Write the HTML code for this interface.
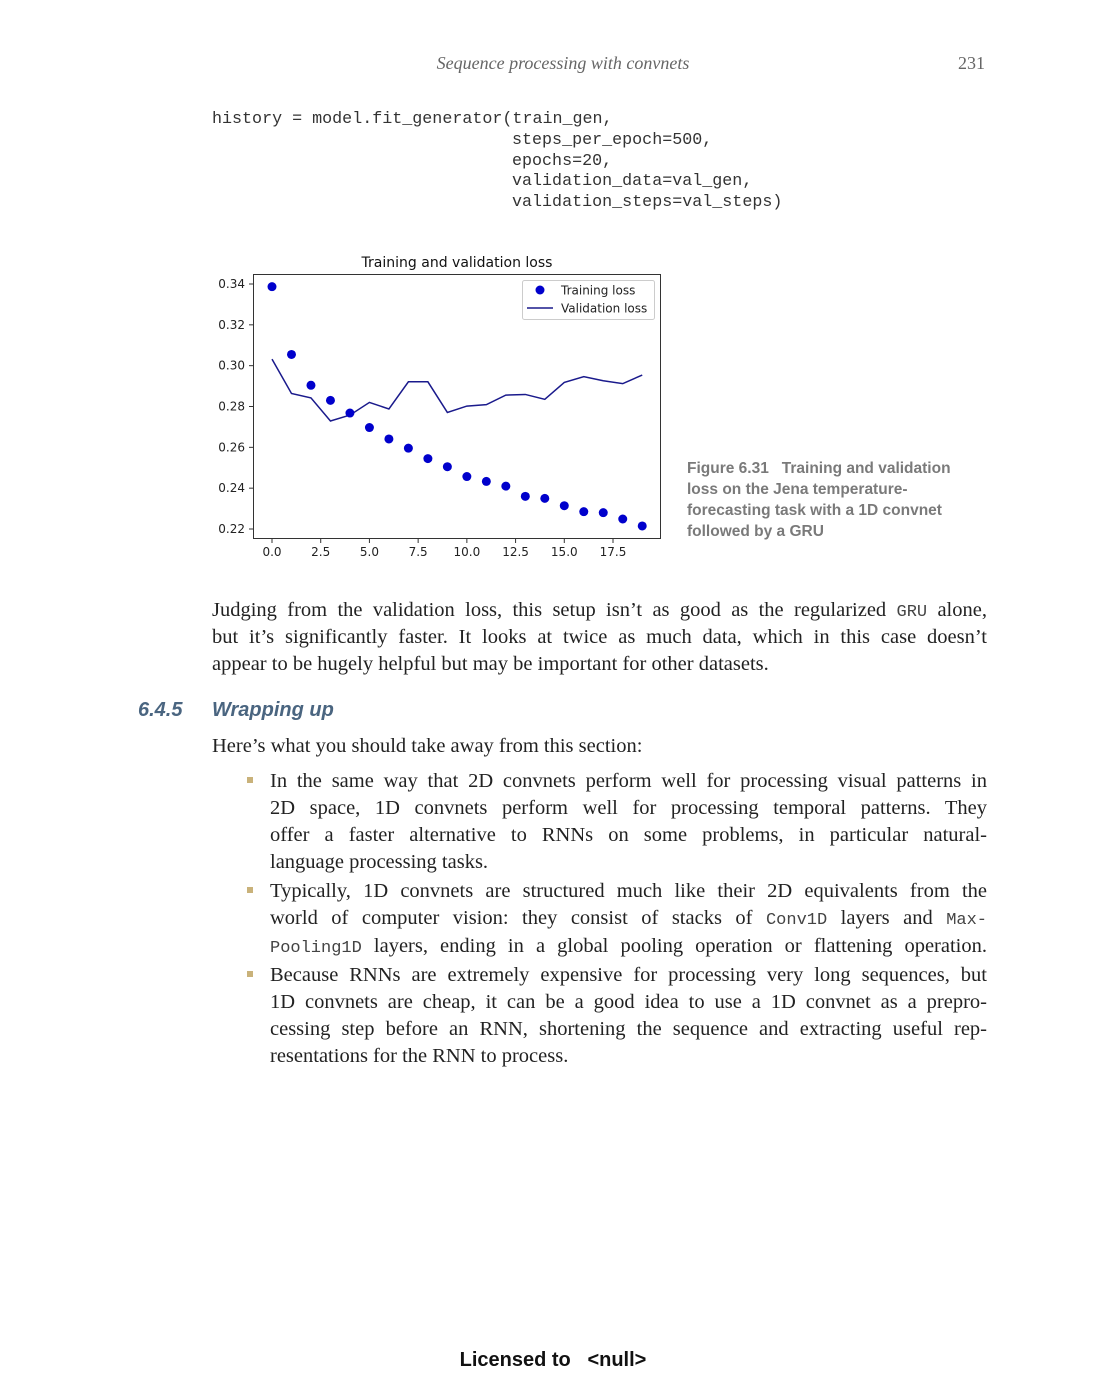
<!DOCTYPE html>
<html><head><meta charset="utf-8"><style>
body{margin:0;background:#fff;}
#page{position:relative;width:1106px;height:1388px;background:#fff;overflow:hidden;font-family:"Liberation Serif",serif;color:#222;}
.ab{position:absolute;white-space:nowrap;}
.code{font-family:"Liberation Mono",monospace;font-size:16.7px;color:#333;line-height:20px;}
.cap{font-family:"Liberation Sans",sans-serif;font-weight:bold;font-size:15.5px;color:#7a7a7a;line-height:20px;left:687px;}
.ln{position:absolute;font-size:20.5px;line-height:26px;white-space:nowrap;}
.j{text-align:justify;text-align-last:justify;}
.m{font-family:"Liberation Mono",monospace;font-size:17px;color:#444;}
.sq{position:absolute;left:247px;width:6px;height:6px;background:#c9b27a;}
</style></head><body>
<div id="page">
<div class="ab" style="left:0;width:1126px;text-align:center;top:53px;font-style:italic;font-size:18px;color:#666;">Sequence processing with convnets</div>
<div class="ab" style="left:958px;top:53px;font-size:18px;color:#666;">231</div>

<div>
<div class="ab code" style="left:212px;top:110px;">history = model.fit_generator(train_gen,</div>
<div class="ab code" style="left:512px;top:131px;">steps_per_epoch=500,</div>
<div class="ab code" style="left:512px;top:152px;">epochs=20,</div>
<div class="ab code" style="left:512px;top:172px;">validation_data=val_gen,</div>
<div class="ab code" style="left:512px;top:193px;">validation_steps=val_steps)</div>
</div>

<svg id="chart" width="1106" height="580" style="position:absolute;left:0;top:0;font-family:'DejaVu Sans',sans-serif;">
<text x="457" y="267" font-size="14" text-anchor="middle" fill="#111">Training and validation loss</text>
<g id="axes"></g>
<g id="marks"></g>
<rect x="253.5" y="274.5" width="407" height="264" fill="none" stroke="#333" stroke-width="1"/>
<g>
<rect x="522.5" y="280.5" width="132" height="39" fill="#fff" stroke="#ccc" rx="2"/>
<circle cx="540" cy="290" r="4.5" fill="#0000cc"/>
<text x="561" y="294.5" font-size="12" fill="#222">Training loss</text>
<line x1="527" y1="308" x2="553" y2="308" stroke="#1a1a8c" stroke-width="1.5"/>
<text x="561" y="312.5" font-size="12" fill="#222">Validation loss</text>
</g>
</svg>

<div>
<div class="ab cap" style="top:459px;">Figure 6.31&nbsp;&nbsp;&nbsp;Training and validation</div>
<div class="ab cap" style="top:480px;">loss on the Jena temperature-</div>
<div class="ab cap" style="top:501px;">forecasting task with a 1D convnet</div>
<div class="ab cap" style="top:522px;">followed by a GRU</div>
</div>

<div>
<div class="ln j" style="left:212px;width:775px;top:597px;">Judging from the validation loss, this setup isn’t as good as the regularized <span class="m">GRU</span> alone,</div>
<div class="ln j" style="left:212px;width:775px;top:624px;">but it’s significantly faster. It looks at twice as much data, which in this case doesn’t</div>
<div class="ln" style="left:212px;top:651px;">appear to be hugely helpful but may be important for other datasets.</div>
</div>

<div class="ab" style="left:138px;top:699px;font-family:'Liberation Sans',sans-serif;font-weight:bold;font-style:italic;font-size:20px;color:#4a6580;">6.4.5</div>
<div class="ab" style="left:212px;top:699px;font-family:'Liberation Sans',sans-serif;font-weight:bold;font-style:italic;font-size:20px;color:#4a6580;">Wrapping up</div>

<div class="ln" style="left:212px;top:733px;">Here’s what you should take away from this section:</div>

<div>
<div class="sq" style="top:777px;"></div>
<div class="ln j" style="left:270px;width:717px;top:768px;">In the same way that 2D convnets perform well for processing visual patterns in</div>
<div class="ln j" style="left:270px;width:717px;top:795px;">2D space, 1D convnets perform well for processing temporal patterns. They</div>
<div class="ln j" style="left:270px;width:717px;top:822px;">offer a faster alternative to RNNs on some problems, in particular natural-</div>
<div class="ln" style="left:270px;top:849px;">language processing tasks.</div>
<div class="sq" style="top:887px;"></div>
<div class="ln j" style="left:270px;width:717px;top:878px;">Typically, 1D convnets are structured much like their 2D equivalents from the</div>
<div class="ln j" style="left:270px;width:717px;top:905px;">world of computer vision: they consist of stacks of <span class="m">Conv1D</span> layers and <span class="m">Max-</span></div>
<div class="ln j" style="left:270px;width:717px;top:933px;"><span class="m">Pooling1D</span> layers, ending in a global pooling operation or flattening operation.</div>
<div class="sq" style="top:971px;"></div>
<div class="ln j" style="left:270px;width:717px;top:962px;">Because RNNs are extremely expensive for processing very long sequences, but</div>
<div class="ln j" style="left:270px;width:717px;top:989px;">1D convnets are cheap, it can be a good idea to use a 1D convnet as a prepro-</div>
<div class="ln j" style="left:270px;width:717px;top:1016px;">cessing step before an RNN, shortening the sequence and extracting useful rep-</div>
<div class="ln" style="left:270px;top:1043px;">resentations for the RNN to process.</div>
</div>

<div class="ab" style="left:0;width:1106px;text-align:center;top:1349px;font-family:'Liberation Sans',sans-serif;font-weight:bold;font-size:20px;color:#111;">Licensed to &nbsp;&nbsp;&lt;null&gt;</div>
</div>

<script>
const epochs = [0,1,2,3,4,5,6,7,8,9,10,11,12,13,14,15,16,17,18,19];
const trainingLoss = [0.3387,0.3055,0.2904,0.2830,0.2768,0.2697,0.2641,0.2596,0.2545,0.2505,0.2457,0.2433,0.2410,0.2360,0.2350,0.2314,0.2285,0.2280,0.2249,0.2215];
const validationLoss = [0.3032,0.2864,0.2842,0.2729,0.2758,0.2820,0.2788,0.2921,0.2921,0.2771,0.2802,0.2809,0.2856,0.2859,0.2835,0.2918,0.2946,0.2926,0.2912,0.2954];
const xTicks = [0,2.5,5,7.5,10,12.5,15,17.5];
const xTickLabels = ["0.0","2.5","5.0","7.5","10.0","12.5","15.0","17.5"];
const yTicks = [0.22,0.24,0.26,0.28,0.30,0.32,0.34];
const yTickLabels = ["0.22","0.24","0.26","0.28","0.30","0.32","0.34"];

const NS = "http://www.w3.org/2000/svg";
function xs(v){ return 272 + v * (613 - 272) / 17.5; }
function ys(v){ return 529 - (v - 0.22) * (529 - 284) / 0.12; }
function mk(tag, attrs, parent){ const e = document.createElementNS(NS, tag); for (const k in attrs) e.setAttribute(k, attrs[k]); parent.appendChild(e); return e; }

const axes = document.getElementById('axes');
const marks = document.getElementById('marks');
xTicks.forEach((t, i) => {
  const l = mk('line', {x1: xs(t), x2: xs(t), y1: 538.5, y2: 543, stroke: '#333'}, axes);
  
  
  const tx = mk('text', {x: xs(t), y: 556, 'font-size': 12, 'text-anchor': 'middle', fill: '#222'}, axes);
  tx.textContent = xTickLabels[i];
  
  
});
yTicks.forEach((t, i) => {
  const l = mk('line', {x1: 249, x2: 253.5, y1: ys(t), y2: ys(t), stroke: '#333'}, axes);
  
  
  const tx = mk('text', {x: 245, y: ys(t) + 4, 'font-size': 12, 'text-anchor': 'end', fill: '#222'}, axes);
  tx.textContent = yTickLabels[i];
  
  
});
const pts = epochs.map((e, i) => xs(e) + ',' + ys(validationLoss[i])).join(' ');
const pl = mk('polyline', {points: pts, fill: 'none', stroke: '#1a1a8c', 'stroke-width': 1.5}, marks);


epochs.forEach((e, i) => {
  const c = mk('circle', {cx: xs(e), cy: ys(trainingLoss[i]), r: 4.5, fill: '#0000cc'}, marks);
  
  
});
</script>
</body></html>
